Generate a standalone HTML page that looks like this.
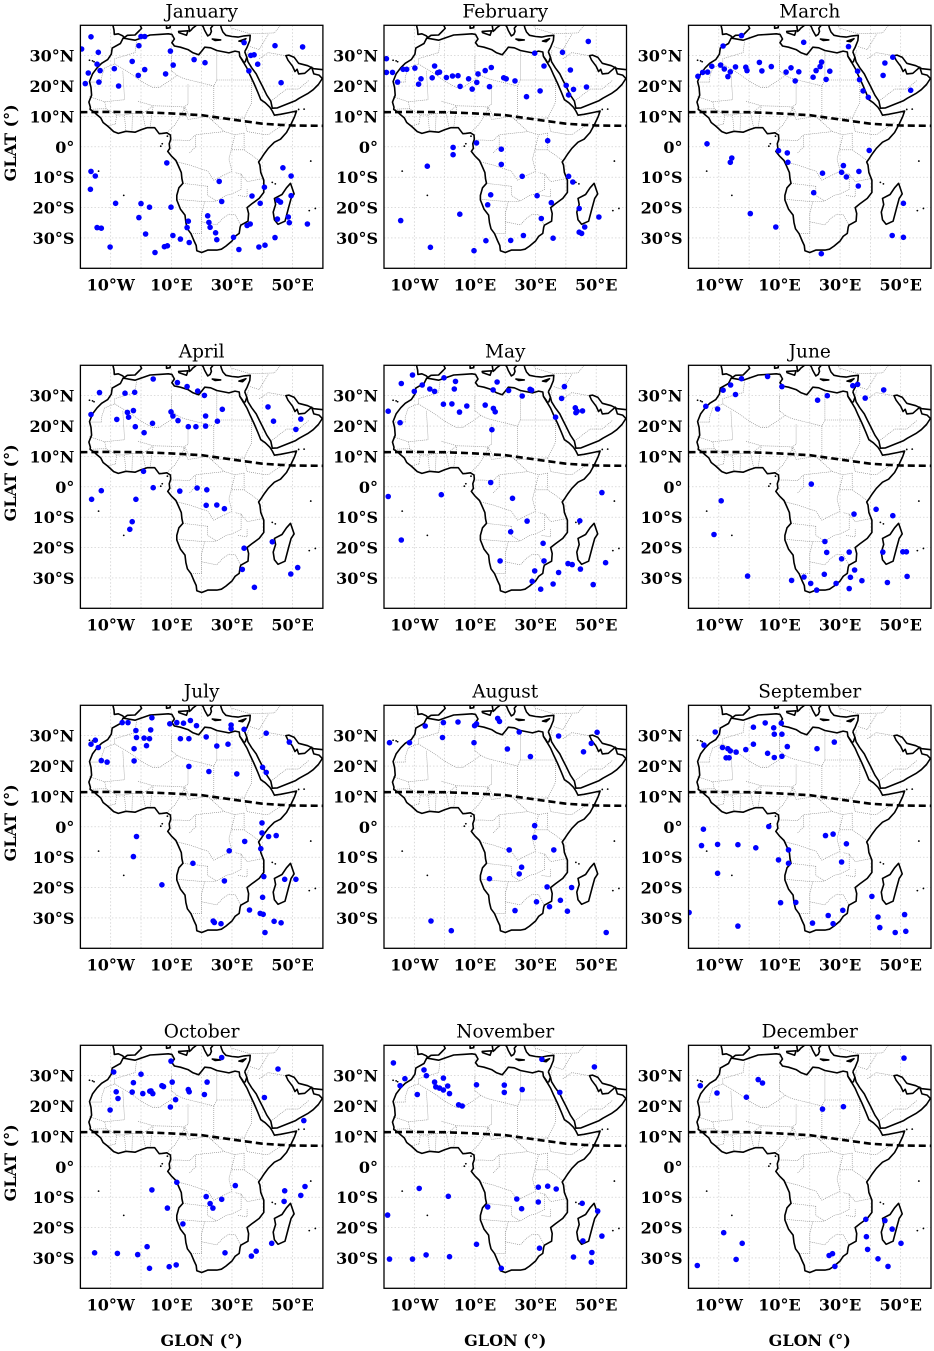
<!DOCTYPE html>
<html>
<head>
<meta charset="utf-8">
<style>
  html,body{margin:0;padding:0;background:#fff;}
  svg{display:block;}
  .title{font-family:"DejaVu Serif","Liberation Serif",serif;font-size:18.5px;fill:#000;}
  .tick{font-family:"DejaVu Serif","Liberation Serif",serif;font-size:16px;font-weight:bold;fill:#000;}
  .axt{font-family:"DejaVu Serif","Liberation Serif",serif;font-size:16px;font-weight:bold;fill:#000;}
</style>
</head>
<body>
<svg id="fig" xmlns="http://www.w3.org/2000/svg" width="934" height="1351" viewBox="0 0 934 1351"></svg>
<script>
// ---------- data ----------
const months = ["January","February","March","April","May","June","July","August","September","October","November","December"];
const latTicks = [30,20,10,0,-10,-20,-30];
const latTickLabels = ["30°N","20°N","10°N","0°","10°S","20°S","30°S"];
const lonTicks = [-10,10,30,50];
const lonTickLabels = ["10°W","10°E","30°E","50°E"];
const itczLon = [-20,-10,0,10,20,30,40,46,50,60];
const itczLat = [11.4,11.5,11.4,11.0,10.4,9.0,7.6,7.2,7.0,6.9];

const jan = [[-16.5,36.2],[-19.6,32.2],[-14.1,31.1],[-14.5,27.2],[-17.4,24.3],[-13.5,25.1],[-13.9,21.3],[-18.4,20.8],[-8.8,25.7],[-7.4,20.0],[-2.9,28.1],[-0.7,33.3],[0.0,36.3],[1.2,36.3],[1.2,25.4],[-0.9,23.5],[8.1,24.0],[9.7,31.5],[10.6,26.9],[17.5,28.7],[21.1,27.7],[34.0,34.3],[36.2,30.1],[37.3,30.3],[35.6,25.0],[38.5,27.2],[44.2,33.3],[53.3,32.9],[46.2,21.1],
[-16.5,-8.1],[-15.1,-9.6],[-16.7,-14.0],[-14.5,-26.6],[-13.1,-26.8],[-10.2,-33.0],[-8.4,-18.6],[0.0,-18.7],[2.8,-19.9],[-0.7,-23.3],[1.5,-28.7],[4.6,-34.8],[7.7,-32.9],[8.7,-32.6],[10.5,-29.2],[9.9,-19.9],[8.5,-5.3],[13.0,-30.4],[15.6,-24.5],[15.9,-31.5],[15.2,-26.6],[22.0,-22.7],[22.4,-24.9],[22.8,-26.5],[24.6,-28.3],[25.0,-30.6],[25.8,-11.4],[26.6,-18.0],[30.5,-29.8],[32.3,-33.8],[35.0,-25.9],[36.0,-25.4],[36.6,-16.2],[39.3,-18.6],[38.9,-33.0],[40.9,-32.4],[40.7,-13.3],[44.2,-29.9],[45.2,-17.6],[46.0,-18.2],[46.8,-6.9],[49.5,-9.6],[49.5,-16.1],[48.6,-23.1],[48.9,-25.0],[45.0,-23.8],[54.9,-25.4]];
const feb = [[-19.2,29.0],[-19.2,24.5],[-17.2,24.5],[-15.5,21.3],[-13.7,25.5],[-12.5,25.5],[-9.8,25.9],[-8.6,20.6],[-7.8,22.4],[-4.1,22.7],[-3.3,26.6],[-2.3,24.4],[-1.7,24.6],[0.6,22.8],[2.6,23.3],[4.4,23.4],[5.1,19.9],[7.9,22.4],[9.1,19.0],[10.6,21.2],[11.0,24.0],[13.4,25.1],[14.8,19.8],[15.4,26.1],[19.5,22.7],[20.3,22.4],[23.2,21.7],[27.0,16.5],[31.5,18.4],[29.7,30.8],[32.8,26.6],[38.9,31.1],[41.5,25.3],[47.4,34.7],[40.1,20.2],[42.5,18.9],[46.8,19.7],[40.9,17.1],
[10.5,1.3],[2.8,-0.2],[2.8,-2.6],[-5.7,-6.4],[18.7,-0.8],[18.7,-5.8],[34.0,2.0],[25.6,-9.7],[40.9,-9.7],[42.3,-11.6],[15.2,-15.8],[14.2,-19.1],[5.0,-22.2],[-14.5,-24.3],[-4.7,-33.1],[9.7,-34.2],[13.6,-30.9],[21.8,-30.8],[26.0,-29.2],[35.8,-30.1],[30.5,-16.1],[35.2,-18.4],[31.9,-23.6],[44.4,-20.3],[44.4,-28.1],[45.2,-28.5],[46.2,-26.4],[50.9,-23.1]];
const mar = [[-16.9,23.2],[-15.3,24.5],[-13.7,24.6],[-12.3,26.5],[-9.4,26.9],[-8.2,25.6],[-7.0,23.1],[-6.2,24.7],[-4.5,26.3],[-1.1,26.2],[-0.7,25.1],[3.4,27.8],[4.2,25.0],[7.3,26.4],[-8.6,33.2],[-2.5,36.6],[12.2,24.6],[13.8,26.0],[15.2,21.7],[16.4,24.7],[18.0,34.4],[21.1,22.9],[22.1,25.1],[23.4,26.4],[23.9,27.9],[25.4,22.2],[26.6,24.9],[32.8,33.0],[35.8,24.9],[36.4,22.1],[37.6,18.4],[39.3,16.3],[44.8,27.6],[44.2,23.5],[47.4,29.5],[53.3,18.6],
[-13.9,1.0],[-5.7,-3.7],[-6.2,-5.1],[9.7,-1.3],[12.6,-2.0],[12.8,-5.1],[31.1,-6.2],[30.5,-8.4],[32.1,-9.9],[36.2,-8.1],[39.6,-1.2],[24.2,-8.7],[36.0,-12.9],[21.3,-15.1],[0.4,-22.0],[8.8,-26.4],[23.8,-35.2],[47.2,-29.2],[50.9,-29.8],[50.9,-18.6]];
const apr = [[-16.5,23.8],[-13.7,31.0],[-5.3,30.8],[-2.1,31.1],[4.0,35.5],[12.0,34.3],[15.2,33.0],[18.7,31.5],[20.9,30.1],[-8.0,22.2],[-4.5,24.5],[-4.1,22.9],[-2.5,25.1],[-1.9,19.8],[1.0,17.8],[3.8,20.9],[9.9,24.7],[10.5,23.3],[12.2,21.8],[15.6,19.8],[18.1,19.8],[21.3,23.3],[21.3,20.0],[25.2,21.6],[26.8,25.5],[41.9,26.3],[43.7,21.6],[51.1,18.9],[52.7,22.3],
[0.8,5.1],[-16.3,-4.1],[-13.1,-1.3],[-1.7,-4.1],[4.0,-0.3],[12.8,-1.4],[18.5,-0.4],[21.7,-1.0],[21.5,-6.1],[25.0,-6.0],[27.5,-7.2],[-2.9,-11.5],[-3.7,-14.0],[34.0,-20.2],[43.3,-18.1],[33.4,-27.2],[37.4,-33.1],[49.4,-28.7],[51.7,-26.6]];
const may = [[-18.6,24.9],[-14.7,21.1],[-14.3,34.0],[-10.6,36.8],[-10.0,31.4],[-7.4,33.5],[-4.9,32.2],[-3.3,31.4],[-0.2,35.9],[3.6,34.7],[3.2,32.2],[-0.4,27.2],[2.4,27.3],[4.9,24.6],[7.3,26.6],[13.4,26.9],[16.1,25.8],[16.7,24.7],[16.0,31.9],[17.3,34.5],[15.6,18.8],[21.1,31.7],[25.6,29.9],[28.2,32.1],[28.7,31.8],[39.5,33.0],[38.6,29.1],[36.6,22.9],[43.1,26.0],[43.7,24.9],[45.5,25.0],[43.3,24.4],
[-18.6,-3.2],[-14.3,-17.5],[-1.1,-2.6],[15.2,1.4],[22.4,-3.8],[27.2,-11.3],[21.8,-14.8],[18.3,-24.4],[32.5,-18.6],[32.8,-24.4],[29.7,-27.7],[28.9,-31.1],[31.7,-33.7],[35.8,-32.0],[37.6,-28.2],[40.7,-25.3],[42.1,-25.6],[44.8,-27.1],[44.6,-11.2],[51.9,-1.9],[53.1,-25.0],[49.0,-32.2]];
const jun = [[-14.3,26.5],[-10.4,25.6],[-8.6,31.8],[-6.1,33.5],[-4.5,30.4],[-2.5,35.6],[6.1,36.3],[10.8,33.0],[22.6,28.5],[25.8,30.0],[34.2,33.3],[35.8,33.7],[38.3,29.2],[44.4,31.9],
[20.5,0.9],[-9.2,-4.6],[-11.6,-15.7],[-0.5,-29.4],[14.0,-30.8],[18.1,-29.7],[20.3,-31.8],[22.3,-34.0],[25.0,-18.0],[25.6,-21.6],[24.8,-28.8],[28.7,-31.8],[30.5,-23.7],[33.0,-21.5],[34.6,-9.0],[34.8,-27.4],[33.4,-29.8],[33.0,-33.5],[37.2,-30.9],[41.9,-7.4],[44.1,-21.5],[47.4,-9.5],[45.6,-31.5],[50.7,-21.4],[51.9,-21.4],[52.1,-29.5]];
const jul = [[-16.5,27.2],[-15.1,28.5],[-14.1,26.1],[-13.1,21.8],[-11.2,21.3],[-6.2,34.3],[-4.3,34.3],[-1.7,31.7],[-1.5,29.4],[1.0,29.2],[2.8,29.0],[3.2,31.9],[3.6,35.9],[-2.3,25.7],[1.8,26.7],[-2.3,21.7],[9.5,33.9],[11.8,34.3],[14.0,34.1],[16.3,35.0],[18.3,33.3],[13.0,29.0],[15.8,29.0],[21.5,29.6],[25.0,26.6],[28.7,27.2],[29.7,33.5],[29.7,32.3],[34.0,32.1],[41.3,30.8],[48.9,27.9],[15.8,19.9],[22.4,18.2],[31.6,17.4],[40.1,19.6],[41.3,17.9],
[-1.5,-3.2],[-2.5,-9.8],[6.9,-19.1],[17.1,-12.0],[29.1,-7.9],[34.2,-4.8],[39.9,1.3],[39.9,-2.0],[42.1,-3.2],[44.6,-2.9],[39.5,-7.2],[27.5,-17.8],[40.5,-16.4],[47.4,-17.3],[51.1,-17.3],[40.1,-23.2],[23.8,-31.0],[24.2,-31.5],[26.4,-31.9],[35.8,-27.4],[39.3,-28.5],[40.3,-28.8],[43.9,-31.1],[46.2,-31.6],[40.9,-34.8]];
const aug = [[-18.2,27.7],[-11.6,27.7],[-6.4,33.2],[-0.7,29.4],[-0.4,34.3],[4.4,34.5],[9.9,33.3],[10.5,33.9],[9.7,27.7],[17.5,35.7],[18.1,34.7],[20.7,25.6],[24.6,31.2],[28.3,23.1],[37.6,29.9],[50.3,31.1],[48.4,27.5],[45.8,24.7],
[29.7,0.4],[29.7,-3.5],[21.3,-7.6],[36.0,-7.6],[25.4,-13.3],[24.6,-15.5],[14.8,-17.1],[33.8,-19.8],[41.9,-20.0],[30.3,-24.7],[38.2,-24.2],[34.6,-26.3],[23.2,-27.6],[40.5,-27.8],[-4.5,-31.0],[2.2,-34.2],[53.3,-34.8]];
const sep = [[-14.9,26.9],[-11.2,31.2],[-8.8,26.1],[-7.0,25.7],[-6.6,22.7],[-7.6,22.7],[-6.2,25.0],[-4.3,24.6],[-1.1,25.4],[1.4,27.2],[1.4,32.8],[5.3,34.2],[8.1,32.6],[8.3,30.5],[6.1,24.2],[8.3,22.8],[10.8,30.5],[10.8,23.2],[10.6,34.1],[12.6,26.4],[22.4,25.7],[28.1,27.9],
[-19.8,-28.2],[-15.1,-0.8],[-15.7,-6.2],[-10.4,-5.8],[-3.7,-5.9],[2.2,-6.9],[-10.4,-15.3],[-3.7,-32.7],[6.5,0.1],[25.2,-2.9],[27.7,-2.4],[32.1,-5.6],[13.0,-7.6],[9.7,-10.9],[13.0,-12.0],[30.5,-11.6],[10.4,-25.0],[15.4,-24.9],[30.9,-27.5],[26.1,-29.2],[27.7,-31.9],[20.9,-31.7],[40.5,-22.9],[42.5,-29.7],[43.1,-33.2],[48.2,-34.8],[51.7,-34.4],[51.3,-28.9]];
const oct = [[-9.0,31.2],[-10.2,18.7],[-8.2,24.7],[-7.6,22.5],[-2.9,24.6],[-2.5,27.7],[0.0,30.5],[0.6,24.1],[2.9,24.9],[3.9,24.1],[3.3,25.0],[6.9,26.7],[7.4,26.4],[9.9,34.8],[10.3,27.9],[9.7,19.7],[11.4,22.1],[15.6,25.4],[15.9,24.7],[21.8,27.9],[20.9,23.8],[26.6,36.0],[40.7,22.8],[45.2,32.2],[53.7,15.2],
[3.6,-7.6],[11.8,-5.1],[8.7,-13.6],[13.8,-18.8],[21.5,-9.8],[22.8,-12.1],[23.7,-13.6],[26.6,-10.7],[31.1,-6.2],[-15.3,-28.3],[-7.8,-28.5],[-1.1,-28.9],[2.0,-26.3],[2.8,-33.4],[9.3,-32.9],[11.6,-32.3],[27.7,-28.3],[36.4,-29.4],[38.0,-27.8],[43.1,-25.2],[47.4,-7.9],[47.2,-11.4],[52.7,-9.4],[54.1,-6.5]];
const nov = [[-16.9,34.2],[-14.7,26.7],[-13.1,29.0],[-9.0,23.8],[-6.8,31.9],[-6.0,30.0],[-3.3,27.9],[-2.9,26.3],[-1.7,25.9],[-0.4,29.2],[-0.4,25.3],[1.0,26.6],[1.6,24.1],[4.6,20.4],[5.8,20.0],[10.5,27.0],[19.7,26.9],[19.7,24.5],[25.6,25.4],[32.1,35.4],[38.0,24.5],[49.4,32.9],
[-18.8,-15.9],[-18.2,-30.4],[-10.6,-30.4],[-6.1,-29.0],[-8.4,-7.1],[1.2,-9.7],[1.6,-29.6],[10.5,-25.5],[14.2,-13.2],[18.7,-33.4],[23.8,-10.6],[25.4,-13.8],[30.9,-6.7],[34.0,-6.4],[36.8,-7.3],[30.9,-11.6],[31.3,-26.8],[42.5,-29.7],[45.4,-12.0],[50.5,-14.6],[45.6,-24.4],[48.6,-28.2],[48.4,-31.4],[51.9,-22.8]];
const dec = [[-16.1,26.7],[-10.6,24.3],[-0.9,22.9],[3.0,28.7],[4.4,27.6],[24.2,19.0],[31.1,19.8],[51.1,35.8],
[-17.1,-32.5],[-8.4,-21.7],[-4.3,-30.5],[-2.3,-25.2],[26.4,-29.2],[27.5,-28.6],[28.3,-32.8],[38.5,-17.3],[38.7,-23.0],[39.1,-27.2],[42.5,-30.3],[44.8,-17.7],[45.8,-32.8],[47.2,-20.5],[50.1,-25.2]];
const monthPoints = [jan,feb,mar,apr,may,jun,jul,aug,sep,oct,nov,dec];

// ---------- geography (lon,lat) ----------
const africa = [[-5.9,35.8],[-6.8,34],[-9.5,32.5],[-9.8,30.5],[-11,28.7],[-13,27.5],[-14.5,26],[-16,24],[-17,21.5],[-16.5,19.5],[-16.3,17],[-17.2,14.7],[-16.7,13],[-16.8,12.3],[-15.5,11.5],[-14.5,10.5],[-13.3,9.5],[-12.5,8],[-11,6.8],[-9,5],[-7.5,4.4],[-5,5.1],[-2,4.8],[0,5.6],[2,6.3],[4.5,6.3],[6,4.3],[7,4.4],[8.5,4.6],[9.7,3.9],[9.8,2.5],[9.3,1],[9.5,-0.5],[8.8,-1.5],[10,-3],[11.5,-4.5],[12.2,-6],[13.3,-8.5],[13.5,-10.5],[13.8,-12],[12.5,-13.5],[11.8,-16],[11.8,-17.5],[13,-20.5],[14.5,-22.5],[14.8,-25],[15.3,-27],[16.5,-28.6],[17.5,-31],[18.2,-32.5],[18.4,-34.2],[20,-34.8],[22,-34],[25,-34],[26.5,-33.7],[28,-32.7],[30,-31],[31,-29.5],[32.4,-28.5],[32.7,-26.5],[32.9,-25.8],[35.3,-24.5],[35.5,-22],[35,-20],[36.5,-18.8],[39,-17],[40.5,-15],[40.5,-11],[39.5,-8.5],[39.2,-6],[38.8,-5],[39.5,-4],[40.5,-2.5],[42,-0.5],[44,1.5],[46,2.5],[48,4.7],[49.5,7.5],[50.7,10],[51.3,11.8],[49,11.3],[46,10.7],[44,10.4],[43.3,11.8],[42.5,13],[41,14.5],[39.5,15.5],[38.5,18],[37.2,21],[36,23.5],[35,25.8],[34,27.5],[33.5,28.5],[32.6,29.8],[32.4,31.2],[31,31.5],[29,30.9],[25,31.7],[23,32.6],[21,32.8],[20,31.5],[19,30.3],[17,31],[15.5,32],[13,32.8],[11,33.2],[10.2,34.3],[11,35.5],[10.2,37],[9,37.2],[6,37],[3,36.8],[0,35.8],[-2,35.1],[-5.9,35.8]];
const madagascar = [[49.3,-12],[50.5,-15.5],[49.5,-17],[48.7,-20],[47.5,-24.5],[45.2,-25.5],[44,-24],[43.6,-21.5],[44.4,-19],[44,-17],[46.5,-15.7],[48,-13.5],[49.3,-12]];
const arabia = [[34.2,31.3],[35,32.8],[35.9,35],[36,36.7],[34,36.5],[32,36.1],[30,36.3],[28,36.7],[27,37.8],[26.5,39],[26,41]];
const arabiaSouth = [[34.9,29.5],[35.3,28],[36.5,26],[38,24],[39,22],[40,20],[41.5,17],[42.8,15],[43.3,12.7],[45,12.8],[48,14],[51,15.2],[52.2,16],[55,17.5],[56.8,18.8],[58.5,20.5],[59.8,22.5],[58.7,23.6],[57,24],[56.3,26.2],[55.5,25.5],[54,24.2],[52,24],[51.5,25.5],[50.8,24.8],[50,26.5],[48.5,28.5],[47.8,30],[48.8,30.2],[50.5,29.5],[52,27.5],[55,26.7],[57,25.7],[61,25.3]];
const sinai = [[32.6,29.8],[33.8,27.8],[34.4,28],[34.9,29.5],[34.2,31.3]];
const spain = [[-9.5,41],[-8.9,38.5],[-8.8,37],[-7.5,37.2],[-6,36.5],[-5.5,36],[-4.5,36.7],[-2,36.8],[-0.5,38.3],[0.2,39],[-0.3,40],[0.5,41]];
const italy = [[15.2,41],[15.7,40],[16,38],[16.6,38.5],[17,39],[18.5,40.2],[17,41]];
const sicily = [[12.4,38],[15.5,38.2],[15,36.7],[12.5,37.6],[12.4,38]];
const greece = [[19.5,41],[20.5,39.5],[21,38.3],[22,36.5],[22.8,37],[23.2,38],[23,39],[24,40.3],[26,41]];
const crete = [[23.5,35.5],[26.3,35.2],[24.5,35],[23.5,35.5]];
const cyprus = [[32.3,34.8],[34.6,35.6],[33.5,34.6],[32.3,34.8]];
const sardinia = [[8.4,41],[8.4,39],[9.6,39.2],[9.7,41]];
const borders = [
 [[-8.7,27.3],[-4.8,25],[1,21],[4,19.5],[6,19.5],[12,23.5]],
 [[-17,21.3],[-13,21.3],[-13,23],[-12,26],[-8.7,27.3],[-8.7,29],[-2,31],[-1.5,34.8]],
 [[-12,14.8],[-5.5,15.5],[-5.5,16.5],[-6,25]],
 [[10,30],[10,25],[12,23.5],[14,22.5],[24,20],[25,22],[25,31.5]],
 [[25,22],[36.8,22]],[[15.5,20.5],[15.5,14],[14,13],[15.5,9],[22,10],[24,8.5]],
 [[24,20],[24,9]],[[24,9],[34,9.5],[36.5,14.5],[36.5,22]],[[34,9.5],[35,5],[41,4],[42,4],[48,8]],
 [[4,13.5],[12,13.3],[14.5,13]],[[3,6.3],[3.5,10],[4,13.5]],[[8.5,4.6],[11,7],[13,10],[14.5,13]],
 [[14.5,13],[16,10]],[[22,10],[27.5,5],[31,4],[34,4.5]],
 [[9.8,2.2],[13,2.2],[16,2],[18,4],[23,4.5],[27.5,5]],
 [[12,-5],[16,-6],[22,-8],[24,-11],[30,-8],[29,-4],[30,0],[31,4]],[[18,0],[18,4]],[[16,-2],[18,0]],
 [[11.8,-17.3],[20,-18],[23.5,-18],[25,-17.8]],[[16.5,-28.6],[20,-28.5],[20,-22],[21,-18]],
 [[20,-24.7],[25,-25.7],[27,-23.5],[29,-22.2],[31,-22.3],[32.9,-25.8]],
 [[22,-13],[22,-16],[25,-17.8],[28,-16],[30,-15.5],[33,-14],[33,-9],[31,-8.5]],
 [[30,-1],[34,-1],[37.5,-3.5],[39.2,-4.7]],[[33,-9],[35,-11.5],[40.4,-10.4]],[[34,4.5],[34,-1]],
 [[32,-16],[35,-16.5],[35,-14]],[[22,-13],[13.8,-12]],
 [[-8.5,7.5],[-8,10.5],[-5.5,10.5],[-2.8,11],[0.5,11],[2,12],[4,13.5]],[[-12,14.8],[-11.5,12.5],[-8,10.5]],
 [[-5.5,10.5],[-5,5.1]],[[-2.8,11],[-3,5]],[[0.5,11],[1.5,6.2]],[[-11.5,12.5],[-13.5,12.5],[-16.8,12.3]],
 [[-8.5,7.5],[-11,6.8]],[[-17,16.5],[-12,14.8]],[[-1,15],[4,13.5]],
 [[36.5,22],[36.8,22],[38.5,18]],[[42.8,15],[48,19],[52,19],[55.5,22]],[[39,29],[42,31],[47.8,30]],
 [[36,33],[39,32],[42,37]],[[28,41],[30,39],[36,37.2],[44,37.5],[46,40]],[[34.9,29.5],[35.5,32]]
];
const smallIslands = [[-16,28.3],[-15.5,28],[-17,28.5],[-24,16],[7,1],[6.5,0.2],[8.7,3.5],[-14,-8],[-5.7,-16],[56,-4.7],[55.5,-21],[57.5,-20.3],[43.3,-11.7],[44.3,-12.2],[52,12.3],[53.8,12.4]];

// ---------- layout ----------
const colX = [80.4,384,688.5];
const rowY = [25.3,365.3,705.3,1045.3];
const PW = 242.5, PH = 243;
const LON0=-20, LON1=60, LAT0=-40, LAT1=40;
const NS = "http://www.w3.org/2000/svg";
const svg = document.getElementById('fig');

function mk(tag, attrs, parent){
  const e = document.createElementNS(NS, tag);
  for (const k in attrs) e.setAttribute(k, attrs[k]);
  (parent||svg).appendChild(e);
  return e;
}
function xs(px, lon){ return px + (lon-LON0)/(LON1-LON0)*PW; }
function ys(py, lat){ return py + (LAT1-lat)/(LAT1-LAT0)*PH; }
function pathOf(px,py,pts,close){
  let d = pts.map((p,i)=>(i?'L':'M')+xs(px,p[0]).toFixed(1)+','+ys(py,p[1]).toFixed(1)).join('');
  return close ? d+'Z' : d;
}

const defs = mk('defs',{});
months.forEach((m,i)=>{
  const c = i%3, r = Math.floor(i/3);
  const px = colX[c], py = rowY[r];
  const cp = mk('clipPath',{id:'clip'+i},defs);
  mk('rect',{x:px,y:py,width:PW,height:PH},cp);

  const g = mk('g',{});
  
  

  const title = mk('text',{x:px+PW/2,y:py-8,'text-anchor':'middle',class:'title'},g);
  title.textContent = m;
  
  

  const inner = mk('g',{'clip-path':'url(#clip'+i+')'},g);
  const grid = mk('g',{stroke:'#c8c8c8','stroke-width':0.7,'stroke-dasharray':'1.5,2',fill:'none'},inner);
  
  
  for (let lon=-10; lon<=50; lon+=10) mk('line',{x1:xs(px,lon),x2:xs(px,lon),y1:py,y2:py+PH},grid);
  for (let lat=-30; lat<=30; lat+=10) mk('line',{x1:px,x2:px+PW,y1:ys(py,lat),y2:ys(py,lat)},grid);

  const bg = mk('g',{stroke:'#808080','stroke-width':0.6,'stroke-dasharray':'1,1',fill:'none'},inner);
  
  
  borders.forEach(b=>mk('path',{d:pathOf(px,py,b,false)},bg));

  const cg = mk('g',{stroke:'#000','stroke-width':1.6,fill:'none','stroke-linejoin':'round'},inner);
  
  
  mk('path',{d:pathOf(px,py,africa,true)},cg);
  mk('path',{d:pathOf(px,py,madagascar,true)},cg);
  mk('path',{d:pathOf(px,py,arabia,false)},cg);
  mk('path',{d:pathOf(px,py,arabiaSouth,false)},cg);
  mk('path',{d:pathOf(px,py,sinai,false)},cg);
  mk('path',{d:pathOf(px,py,spain,false)},cg);
  mk('path',{d:pathOf(px,py,italy,false)},cg);
  mk('path',{d:pathOf(px,py,sicily,true)},cg);
  mk('path',{d:pathOf(px,py,greece,false)},cg);
  mk('path',{d:pathOf(px,py,crete,true)},cg);
  mk('path',{d:pathOf(px,py,cyprus,true)},cg);
  mk('path',{d:pathOf(px,py,sardinia,false)},cg);
  smallIslands.forEach(p=>mk('circle',{cx:xs(px,p[0]),cy:ys(py,p[1]),r:0.9,fill:'#000'},inner));

  const itcz = mk('path',{d:pathOf(px,py,itczLon.map((lo,k)=>[lo,itczLat[k]]),false),stroke:'#000','stroke-width':2.6,'stroke-dasharray':'7,4',fill:'none'},inner);
  
  

  const pg = mk('g',{fill:'#0000ff'},inner);
  
  
  monthPoints[i].forEach(p=>{
    const dot = mk('circle',{cx:xs(px,p[0]).toFixed(1),cy:ys(py,p[1]).toFixed(1),r:2.8},pg);
    
    
  });

  const fr = mk('rect',{x:px,y:py,width:PW,height:PH,fill:'none',stroke:'#000','stroke-width':1.3},g);
  
  

  latTicks.forEach((lat,k)=>{
    const t = mk('text',{x:px-6,y:ys(py,lat)+6,'text-anchor':'end',class:'tick'},g);
    t.textContent = latTickLabels[k];
    
    
  });
  lonTicks.forEach((lon,k)=>{
    const t = mk('text',{x:xs(px,lon),y:py+PH+22,'text-anchor':'middle',class:'tick'},g);
    t.textContent = lonTickLabels[k];
    
    
  });

  if (c===0){
    const yt = mk('text',{x:0,y:0,'text-anchor':'middle',class:'axt',transform:'translate(16,'+(py+PH/2-4)+') rotate(-90)'},g);
    yt.textContent = 'GLAT (°)';
    
    
  }
  if (r===3){
    const xt = mk('text',{x:px+PW/2,y:1346,'text-anchor':'middle',class:'axt'},g);
    xt.textContent = 'GLON (°)';
    
    
  }
});
</script>
</body>
</html>
